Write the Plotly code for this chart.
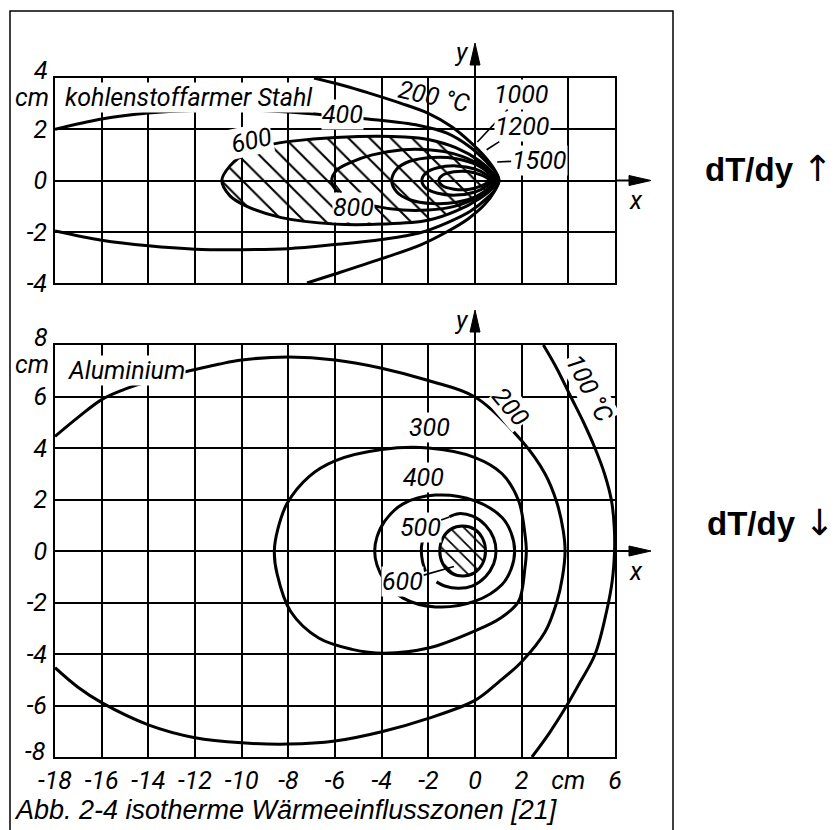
import plotly.graph_objects as go

W, H = 837, 830

# ---------------- kohlenstoffarmer Stahl (top panel), coordinates in cm ----------------
steel_200_x = [-6.9, -5.6, -4.5, -3.2, -2.0, -1.0, -0.2, 0.45, 0.85, 1.02, 0.85, 0.4, -0.3, -1.2, -2.3, -4.0, -6.0, -7.2]
steel_200_y = [4.0, 3.7, 3.4, 3.02, 2.62, 2.1, 1.5, 0.9, 0.4, 0.0, -0.4, -0.95, -1.5, -2.0, -2.5, -3.05, -3.65, -4.0]

steel_400_x = [-18, -16, -14, -12, -10, -8, -6, -4.6, -2.4, -1.2, -0.2, 0.5, 0.9, 1.03,
               0.9, 0.5, -0.2, -1.2, -2.4, -4, -6, -8, -10, -12, -14, -16, -18]
steel_400_y = [2.0, 2.4, 2.63, 2.73, 2.75, 2.67, 2.52, 2.4, 2.15, 1.85, 1.3, 0.72, 0.3, 0.0,
               -0.3, -0.7, -1.2, -1.65, -2.05, -2.3, -2.5, -2.66, -2.7, -2.68, -2.55, -2.33, -1.97]

steel_600_x = [-10.85, -10.5, -9.8, -8.66, -6.94, -5.0, -3.0, -2.0, -0.8, 0.2, 0.75, 0.95,
               0.75, 0.2, -0.8, -2.0, -4.0, -6.0, -8.3, -9.8, -10.5, -10.85]
steel_600_y = [0.0, 0.57, 1.07, 1.42, 1.62, 1.72, 1.7, 1.6, 1.27, 0.76, 0.3, 0.0,
               -0.3, -0.7, -1.19, -1.55, -1.7, -1.7, -1.45, -1.0, -0.6, 0.0]

steel_800_x = [-6.14, -5.93, -5.3, -4.4, -3.1, -2.0, -0.93, 0.2, 0.78, 0.88,
               0.78, 0.2, -0.93, -2.0, -3.1, -4.4, -5.3, -5.93, -6.14]
steel_800_y = [0.0, 0.4, 0.72, 1.0, 1.2, 1.2, 1.05, 0.62, 0.18, 0.0,
               -0.18, -0.6, -1.02, -1.15, -1.15, -0.98, -0.72, -0.4, 0.0]

steel_1000_x = [-3.57, -3.35, -2.8, -1.8, -0.8, 0.1, 0.6, 0.82, 0.6, 0.1, -0.8, -1.8, -2.8, -3.35, -3.57]
steel_1000_y = [0.0, 0.45, 0.75, 0.9, 0.85, 0.6, 0.28, 0.0, -0.28, -0.6, -0.85, -0.9, -0.75, -0.45, 0.0]

steel_1200_x = [-2.28, -2.1, -1.6, -0.8, 0.0, 0.5, 0.72, 0.5, 0.0, -0.8, -1.6, -2.1, -2.28]
steel_1200_y = [0.0, 0.3, 0.5, 0.57, 0.45, 0.22, 0.0, -0.22, -0.45, -0.57, -0.5, -0.3, 0.0]

steel_1500_x = [-1.55, -1.4, -0.9, -0.3, 0.25, 0.55, 0.65, 0.55, 0.25, -0.3, -0.9, -1.4, -1.55]
steel_1500_y = [0.0, 0.2, 0.34, 0.35, 0.22, 0.08, 0.0, -0.08, -0.22, -0.35, -0.34, -0.2, 0.0]

# ---------------- Aluminium (bottom panel), coordinates in cm ----------------
alu_200a_x = [-18, -17, -16, -15.1, -14.3]
alu_200a_y = [4.45, 5.2, 5.88, 6.25, 6.5]

alu_200b_x = [-12.7, -11, -10, -8, -6, -4, -2, 0, 2, 3, 3.5, 3.78, 3.86, 3.75, 3.5, 3.0, 2.0, 1.0, 0,
              -2, -4, -6, -8, -10, -12, -14, -16, -17, -18]
alu_200b_y = [6.9, 7.25, 7.42, 7.53, 7.42, 7.1, 6.62, 5.98, 4.28, 3.0, 1.9, 0.8, 0.0, -1.0, -2.0, -3.15, -4.3, -5.1, -5.8,
              -6.5, -7.02, -7.38, -7.5, -7.45, -7.25, -6.75, -5.89, -5.3, -4.53]

alu_100_x = [2.93, 3.5, 4.1, 4.65, 5.14, 5.55, 5.85, 5.97, 5.98, 5.88, 5.65, 5.15, 4.5, 3.87, 3.2, 2.44]
alu_100_y = [8.0, 7.1, 6.0, 5.0, 4.0, 3.0, 1.95, 0.9, 0.0, -1.17, -2.3, -4.0, -5.1, -6.1, -7.05, -8.0]

alu_300_x = [2.2, 2.14, 1.87, 1.16, 0.0, -2.0, -4.0, -6.0, -7.1, -8.05, -8.45, -8.6,
             -8.48, -7.9, -6.7, -5.27, -3.9, -2.0, 0.0, 1.1, 1.87, 2.14, 2.2]
alu_300_y = [0.0, 0.66, 1.95, 3.0, 3.63, 4.0, 3.94, 3.5, 2.9, 1.85, 0.85, 0.0,
             -0.9, -2.35, -3.38, -3.82, -3.97, -3.77, -3.1, -2.6, -1.95, -0.66, 0.0]

alu_400_x = [1.7, 1.55, 1.16, 0.0, -1.7, -3.1, -3.86, -4.2, -4.3, -4.2, -3.86, -3.1, -1.7, 0.0, 1.16, 1.55, 1.7]
alu_400_y = [0.0, 0.7, 1.3, 1.95, 2.17, 1.82, 1.17, 0.55, 0.0, -0.55, -1.17, -1.82, -2.17, -1.95, -1.3, -0.7, 0.0]

alu_500a_x = [-1.1, -0.7, -0.1, 0.45, 0.8, 0.9, 0.8, 0.45, -0.1, -0.7, -1.3, -1.65]
alu_500a_y = [1.33, 1.45, 1.35, 1.0, 0.5, 0.0, -0.5, -1.0, -1.35, -1.45, -1.36, -1.2]
alu_500b_x = [-2.15, -2.27, -2.3, -2.25, -2.12]
alu_500b_y = [0.6, 0.3, 0.0, -0.4, -0.8]

alu_600_x = [0.45, 0.32, -0.03, -0.53, -1.03, -1.38, -1.51, -1.38, -1.03, -0.53, -0.03, 0.32, 0.45]
alu_600_y = [0.0, 0.5, 0.85, 0.97, 0.85, 0.5, 0.0, -0.5, -0.85, -0.97, -0.85, -0.5, 0.0]

# ---------------- tick labels ----------------
x_ticks = [-18, -16, -14, -12, -10, -8, -6, -4, -2, 0, 2, 4, 6]
x_tick_text = ["-18", "-16", "-14", "-12", "-10", "-8", "-6", "-4", "-2", "0", "2", "cm", "6"]
y_ticks_top = [-4, -2, 0, 2]
y_ticks_bottom = [-6, -4, -2, 0, 2, 4, 6]

# ---------------- layout geometry ----------------
XD = [55 / W, 615 / W]
YD_TOP = [1 - 283 / H, 1 - 78 / H]
YD_BOT = [1 - 757 / H, 1 - 345 / H]
XR = [-18, 6]
YR_TOP = [-4, 4]
YR_BOT = [-8, 8]

LBL_FONT = dict(family="Roboto, Liberation Sans", size=25, color="black", style="italic")
LINE = dict(color="black", width=3, shape="spline", smoothing=1.0)

fig = go.Figure()


def curve(x, y, xa="x", ya="y", **kw):
    fig.add_trace(go.Scatter(x=x, y=y, mode="lines", line=LINE, xaxis=xa, yaxis=ya,
                             hoverinfo="skip", showlegend=False, **kw))


# hatched 600 °C zone in steel
curve(steel_600_x, steel_600_y, fill="toself", fillcolor="rgba(0,0,0,0)",
      fillpattern=dict(shape="\\", size=15, solidity=0.14, fgcolor="black", fgopacity=1,
                       bgcolor="rgba(0,0,0,0)"))
for cx, cy in [(steel_200_x, steel_200_y), (steel_400_x, steel_400_y), (steel_800_x, steel_800_y),
               (steel_1000_x, steel_1000_y), (steel_1200_x, steel_1200_y), (steel_1500_x, steel_1500_y)]:
    curve(cx, cy)

# hatched 600 °C zone in aluminium
curve(alu_600_x, alu_600_y, "x2", "y2", fill="toself", fillcolor="rgba(0,0,0,0)",
      fillpattern=dict(shape="\\", size=10, solidity=0.17, fgcolor="black", fgopacity=1,
                       bgcolor="rgba(0,0,0,0)"))
for cx, cy in [(alu_200a_x, alu_200a_y), (alu_200b_x, alu_200b_y), (alu_100_x, alu_100_y),
               (alu_300_x, alu_300_y), (alu_400_x, alu_400_y), (alu_500a_x, alu_500a_y),
               (alu_500b_x, alu_500b_y)]:
    curve(cx, cy, "x2", "y2")

axis_common = dict(range=XR, showgrid=True, gridcolor="black", gridwidth=2, dtick=2,
                   zeroline=False, showline=True, linecolor="black", linewidth=2, mirror=True,
                   ticks="", fixedrange=True, automargin=False)

fig.update_layout(
    width=W, height=H, margin=dict(l=0, r=0, t=0, b=0, pad=0, autoexpand=False),
    paper_bgcolor="white", plot_bgcolor="white", showlegend=False,
    xaxis=dict(axis_common, domain=XD, anchor="y", showticklabels=False,
               tickvals=x_ticks),
    yaxis=dict(axis_common, range=YR_TOP, domain=YD_TOP, anchor="x", tickvals=y_ticks_top,
               ticktext=[str(v) for v in y_ticks_top], tickfont=LBL_FONT, ticklabelstandoff=1),
    xaxis2=dict(axis_common, domain=XD, anchor="y2", tickvals=x_ticks, ticktext=x_tick_text,
                tickfont=LBL_FONT, ticklabelstandoff=0),
    yaxis2=dict(axis_common, range=YR_BOT, domain=YD_BOT, anchor="x2", tickvals=y_ticks_bottom,
                ticktext=[str(v) for v in y_ticks_bottom], tickfont=LBL_FONT, ticklabelstandoff=1),
)


def lab(text, x, y, xa="x", ya="y", angle=0, bg="white", **kw):
    fig.add_annotation(text=text, x=x, y=y, xref=xa, yref=ya, showarrow=False, font=LBL_FONT,
                       textangle=angle, bgcolor=bg, borderpad=0, yanchor="middle", **kw)


def lead(text, x, y, tx, ty, xa="x", ya="y", angle=0):
    fig.add_annotation(text=text, x=x, y=y, ax=tx, ay=ty, xref=xa, yref=ya, axref=xa, ayref=ya,
                       showarrow=True, arrowhead=0, arrowwidth=1.6, arrowcolor="black",
                       font=LBL_FONT, textangle=angle, bgcolor="white", borderpad=0)


def note(text, xp, yp, font=LBL_FONT, xanchor="center"):
    fig.add_annotation(text=text, x=xp, y=yp, xref="paper", yref="paper", xanchor=xanchor,
                       yanchor="middle", showarrow=False, font=font)


# steel labels
lab("kohlenstoffarmer Stahl", -17.6, 3.22, xanchor="left")
lab("400", -5.7, 2.56)
lab("600", -9.6, 1.55, angle=-12)
lab("200 °C", -1.75, 3.28, angle=12, bg="rgba(0,0,0,0)")
lead("1000", 0.1, 1.5, 2.0, 3.35)
lead("1200", 0.5, 1.2, 2.05, 2.1)
lead("1500", 0.95, 0.72, 2.75, 0.8)
lead("800", -6.05, -0.1, -5.2, -1.05)

# aluminium labels
lab("Aluminium", -17.5, 7.0, "x2", "y2", xanchor="left")
lab("200", 1.5, 5.6, "x2", "y2", angle=50)
lab("100 °C", 4.9, 6.3, "x2", "y2", angle=62)
lab("300", -1.93, 4.8, "x2", "y2")
lab("400", -2.2, 2.85, "x2", "y2")
lead("500", -1.1, 1.32, -2.35, 0.92, "x2", "y2")
lead("600", -0.9, -0.6, -3.1, -1.17, "x2", "y2")


# the end values of the y axes (set slightly off the gridline) and the "cm" unit
def paper_y(v, dom, rng):
    return dom[0] + (v - rng[0]) / (rng[1] - rng[0]) * (dom[1] - dom[0])


def paper_x(v):
    return XD[0] + (v - XR[0]) / (XR[1] - XR[0]) * (XD[1] - XD[0])


for top_v, dom, rng in [(4, YD_TOP, YR_TOP), (8, YD_BOT, YR_BOT)]:
    yp = paper_y(top_v, dom, rng)
    note(str(top_v), 50 / W, yp + 8 / H, xanchor="right")
    note("cm", 51 / W, yp - 19 / H, xanchor="right")
note("-8", 48 / W, paper_y(-8, YD_BOT, YR_BOT) + 6 / H, xanchor="right")

# axis arrows (x and y) for both panels
for dom, rng in [(YD_TOP, YR_TOP), (YD_BOT, YR_BOT)]:
    x0p = paper_x(0)
    ytop = dom[1]
    y0p = paper_y(0, dom, rng)
    # y arrow
    fig.add_shape(type="line", xref="paper", yref="paper", x0=x0p, x1=x0p, y0=ytop, y1=ytop + 20 / H,
                  line=dict(color="black", width=2))
    fig.add_shape(type="path", xref="paper", yref="paper",
                  path=f"M{x0p},{ytop + 35 / H} L{x0p - 5 / W},{ytop + 13 / H} L{x0p + 5 / W},{ytop + 13 / H} Z",
                  fillcolor="black", line=dict(color="black", width=1))
    note("y", x0p - 14 / W, ytop + 25 / H)
    # x arrow
    xr = XD[1]
    fig.add_shape(type="line", xref="paper", yref="paper", x0=xr, x1=xr + 20 / W, y0=y0p, y1=y0p,
                  line=dict(color="black", width=2))
    fig.add_shape(type="path", xref="paper", yref="paper",
                  path=f"M{xr + 36 / W},{y0p} L{xr + 14 / W},{y0p + 5 / H} L{xr + 14 / W},{y0p - 5 / H} Z",
                  fillcolor="black", line=dict(color="black", width=1))
    note("x", xr + 21 / W, y0p - 20 / H)

# outer frame
fig.add_shape(type="rect", xref="paper", yref="paper", x0=10 / W, x1=673 / W, y0=-0.02, y1=1 - 11 / H,
              line=dict(color="black", width=1.5))

# caption
note("Abb. 2-4 isotherme Wärmeeinflusszonen [21]", 12 / W, 1 - 810 / H,
     font=dict(family="Liberation Sans, Arial", size=27, color="black", style="italic"), xanchor="left")

# temperature gradient notes
BOLD = dict(family="Liberation Sans, Arial", size=33, color="black", weight="bold")
ARROW_SPAN = '<span style="font-family:DejaVu Sans;font-size:36px;font-weight:normal">{}</span>'
note("dT/dy " + ARROW_SPAN.format("↑"), 703 / W, 1 - 168 / H, font=BOLD, xanchor="left")
note("dT/dy " + ARROW_SPAN.format("↓"), 705 / W, 1 - 522 / H, font=BOLD, xanchor="left")

fig.write_html("out.html")
